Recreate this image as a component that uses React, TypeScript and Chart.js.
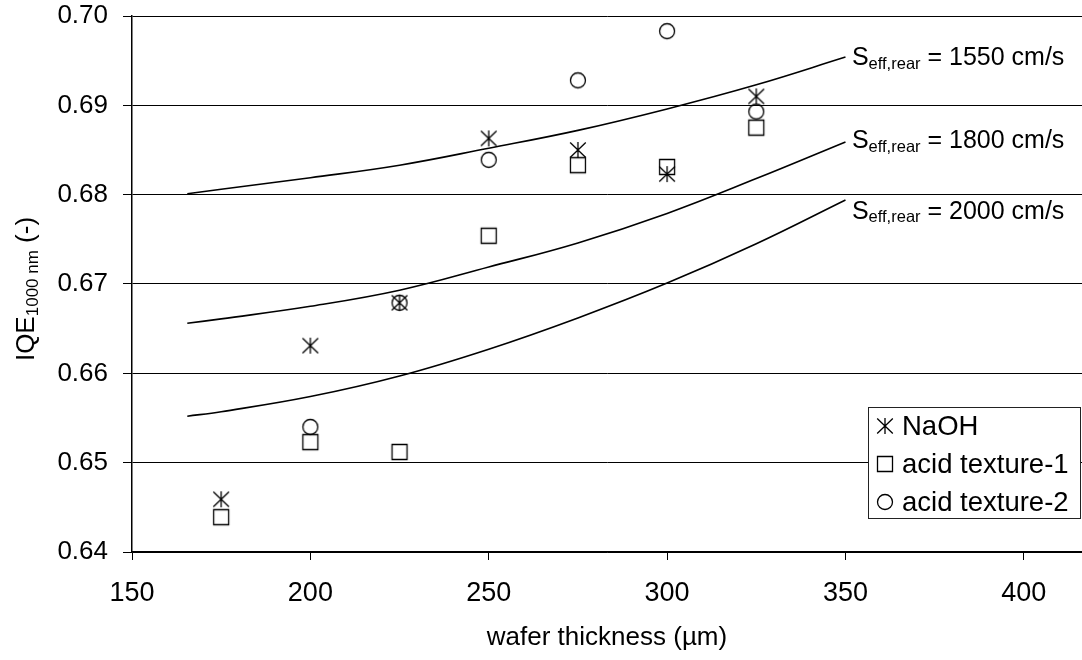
import React, { useEffect, useRef } from 'react';
import { Chart, registerables } from 'chart.js';

Chart.register(...registerables);

const FONT = '"Liberation Sans", Arial, Helvetica, sans-serif';

// ---- data ----
const thicknessNaOH = [175, 200, 225, 250, 275, 300, 325];
const iqeNaOH = [0.6459, 0.6631, 0.6679, 0.6863, 0.685, 0.6823, 0.691];

const thicknessAcid1 = [175, 200, 225, 250, 275, 300, 325];
const iqeAcid1 = [0.6439, 0.6523, 0.6512, 0.6754, 0.6833, 0.6831, 0.6875];

const thicknessAcid2 = [200, 225, 250, 275, 300, 325];
const iqeAcid2 = [0.654, 0.6679, 0.6839, 0.6928, 0.6983, 0.6893];

const curveThickness = [165.5, 175, 200, 225, 250, 275, 300, 325, 350];
const curve1550 = [0.6801, 0.6806, 0.6819, 0.6833, 0.6852, 0.6872, 0.6896, 0.6923, 0.6954];
const curve1800 = [0.6656, 0.6661, 0.6675, 0.6693, 0.6719, 0.6746, 0.6779, 0.6818, 0.6859];
const curve2000 = [0.6552, 0.6557, 0.6574, 0.6597, 0.6627, 0.6662, 0.6701, 0.6745, 0.6794];

const curveLabels = ['1550', '1800', '2000'];
const curveLabelX = 351.8;
const curveLabelY = [0.6955, 0.6862, 0.6783];

const seriesLabels = ['NaOH', 'acid texture-1', 'acid texture-2'];

const xTicks = [150, 200, 250, 300, 350, 400];
const yTicks = [0.64, 0.65, 0.66, 0.67, 0.68, 0.69, 0.7];

const xMin = 150;
const xMax = 416.3;
const yMin = 0.64;
const yMax = 0.7;

function makeMarker(kind: string): HTMLCanvasElement {
  const c = document.createElement('canvas');
  c.width = 20;
  c.height = 20;
  const g = c.getContext('2d')!;
  g.strokeStyle = '#000';
  g.lineWidth = 1.3;
  g.beginPath();
  if (kind === 'star') {
    g.moveTo(2.2, 2.5);
    g.lineTo(17.8, 17.5);
    g.moveTo(17.8, 2.5);
    g.lineTo(2.2, 17.5);
    g.moveTo(10, 2);
    g.lineTo(10, 18);
  } else if (kind === 'square') {
    g.rect(2.5, 2.5, 15, 15);
  } else {
    g.arc(10, 10, 7.5, 0, Math.PI * 2);
  }
  g.stroke();
  return c;
}

type Seg = { t: string; s: number; dy?: number };

function drawRich(ctx: CanvasRenderingContext2D, segs: Seg[], x: number, y: number) {
  let cx = x;
  segs.forEach((sg) => {
    ctx.font = `${sg.s}px ${FONT}`;
    ctx.fillText(sg.t, cx, y + (sg.dy || 0));
    cx += ctx.measureText(sg.t).width;
  });
}

function richWidth(ctx: CanvasRenderingContext2D, segs: Seg[]) {
  let w = 0;
  segs.forEach((sg) => {
    ctx.font = `${sg.s}px ${FONT}`;
    w += ctx.measureText(sg.t).width;
  });
  return w;
}

export default function App() {
  const ref = useRef<HTMLCanvasElement>(null);

  useEffect(() => {
    const markers = [makeMarker('star'), makeMarker('square'), makeMarker('circle')];

    const annotPlugin = {
      id: 'annot',
      afterDraw(chart: any) {
        const ctx: CanvasRenderingContext2D = chart.ctx;
        const xs = chart.scales.x;
        const ys = chart.scales.y;
        const area = chart.chartArea;
        ctx.save();
        ctx.fillStyle = '#000';
        ctx.textBaseline = 'alphabetic';
        ctx.textAlign = 'left';

        // curve labels
        curveLabels.forEach((v, i) => {
          const px = xs.getPixelForValue(curveLabelX);
          const py = ys.getPixelForValue(curveLabelY[i]) + 9;
          drawRich(
            ctx,
            [
              { t: 'S', s: 25 },
              { t: 'eff,rear', s: 16.5, dy: 3.5 },
              { t: ' = ' + v + ' cm/s', s: 25 },
            ],
            px,
            py
          );
        });

        // x axis title
        const xTitle = 'wafer thickness (µm)';
        ctx.font = `26px ${FONT}`;
        ctx.textAlign = 'center';
        ctx.fillText(xTitle, (area.left + area.right) / 2, 645);

        // y axis title (rotated, with subscript)
        const ySegs: Seg[] = [
          { t: 'IQE', s: 26 },
          { t: '1000 nm', s: 17, dy: 4 },
          { t: ' (-)', s: 26 },
        ];
        ctx.textAlign = 'left';
        const w = richWidth(ctx, ySegs);
        ctx.save();
        ctx.translate(34, (area.top + area.bottom) / 2 + 5);
        ctx.rotate(-Math.PI / 2);
        drawRich(ctx, ySegs, -w / 2, 0);
        ctx.restore();

        // legend
        const lx0 = 868;
        const lx1 = 1081;
        const ly0 = 407;
        const ly1 = 519;
        ctx.fillStyle = '#fff';
        ctx.fillRect(lx0, ly0, lx1 - lx0, ly1 - ly0);
        ctx.strokeStyle = '#222';
        ctx.lineWidth = 1;
        ctx.strokeRect(lx0 + 0.5, ly0 + 0.5, lx1 - lx0 - 1, ly1 - ly0 - 1);
        ctx.fillStyle = '#000';
        ctx.font = `27.5px ${FONT}`;
        seriesLabels.forEach((lab, i) => {
          const base = 435 + i * 38;
          const m = markers[i];
          ctx.drawImage(m, 885 - m.width / 2, base - 9 - m.height / 2);
          ctx.fillText(lab, 902, base);
        });
        ctx.restore();
      },
    };

    const curveStyle = {
      showLine: true,
      borderColor: '#000',
      borderWidth: 1.6,
      pointRadius: 0,
      pointHoverRadius: 0,
      tension: 0.4,
      fill: false,
    };

    const chart = new Chart(ref.current!, {
      type: 'scatter',
      data: {
        datasets: [
          {
            label: 'Seff 1550',
            data: curveThickness.map((x, i) => ({ x, y: curve1550[i] })),
            ...curveStyle,
          } as any,
          {
            label: 'Seff 1800',
            data: curveThickness.map((x, i) => ({ x, y: curve1800[i] })),
            ...curveStyle,
          },
          {
            label: 'Seff 2000',
            data: curveThickness.map((x, i) => ({ x, y: curve2000[i] })),
            ...curveStyle,
          },
          {
            label: seriesLabels[0],
            data: thicknessNaOH.map((x, i) => ({ x, y: iqeNaOH[i] })),
            pointStyle: markers[0],
            pointRadius: 9,
            showLine: false,
          },
          {
            label: seriesLabels[1],
            data: thicknessAcid1.map((x, i) => ({ x, y: iqeAcid1[i] })),
            pointStyle: markers[1],
            pointRadius: 9,
            showLine: false,
          },
          {
            label: seriesLabels[2],
            data: thicknessAcid2.map((x, i) => ({ x, y: iqeAcid2[i] })),
            pointStyle: markers[2],
            pointRadius: 9,
            showLine: false,
          },
        ],
      },
      options: {
        animation: false,
        responsive: false,
        devicePixelRatio: 1,
        events: [],
        layout: { autoPadding: false, padding: { top: 0, left: 0, right: 0, bottom: 0 } },
        plugins: {
          legend: { display: false },
          tooltip: { enabled: false },
        },
        scales: {
          x: {
            type: 'linear',
            min: xMin,
            max: xMax,
            afterFit: (s: any) => {
              s.height = 108;
              s.paddingLeft = 0;
              s.paddingRight = 0;
            },
            afterBuildTicks: (s: any) => {
              s.ticks = xTicks.map((v) => ({ value: v }));
            },
            grid: {
              drawOnChartArea: false,
              drawTicks: true,
              tickLength: 8,
              color: '#000',
              lineWidth: 1,
            },
            border: { display: true, color: '#000', width: 1.5 },
            ticks: {
              color: '#000',
              font: { family: FONT, size: 27 },
              padding: 17,
              maxRotation: 0,
              autoSkip: false,
            },
          },
          y: {
            type: 'linear',
            min: yMin,
            max: yMax,
            afterFit: (s: any) => {
              s.width = 132;
              s.paddingTop = 16;
              s.paddingBottom = 0;
            },
            afterBuildTicks: (s: any) => {
              s.ticks = yTicks.map((v) => ({ value: v }));
            },
            grid: {
              drawOnChartArea: true,
              drawTicks: true,
              tickLength: 9,
              color: '#000',
              lineWidth: 1,
            },
            border: { display: true, color: '#000', width: 1.5 },
            ticks: {
              color: '#000',
              font: { family: FONT, size: 26 },
              padding: 15,
              autoSkip: false,
              callback: (v: any) => Number(v).toFixed(2),
            },
          },
        },
      },
      plugins: [annotPlugin],
    });
    return () => chart.destroy();
  }, []);

  return (
    <div
      style={{
        position: 'absolute',
        left: 0,
        top: 0,
        width: 1082,
        height: 660,
        background: '#fff',
      }}
    >
      <canvas ref={ref} width={1082} height={660} style={{ display: 'block', width: 1082, height: 660 }} />
    </div>
  );
}
